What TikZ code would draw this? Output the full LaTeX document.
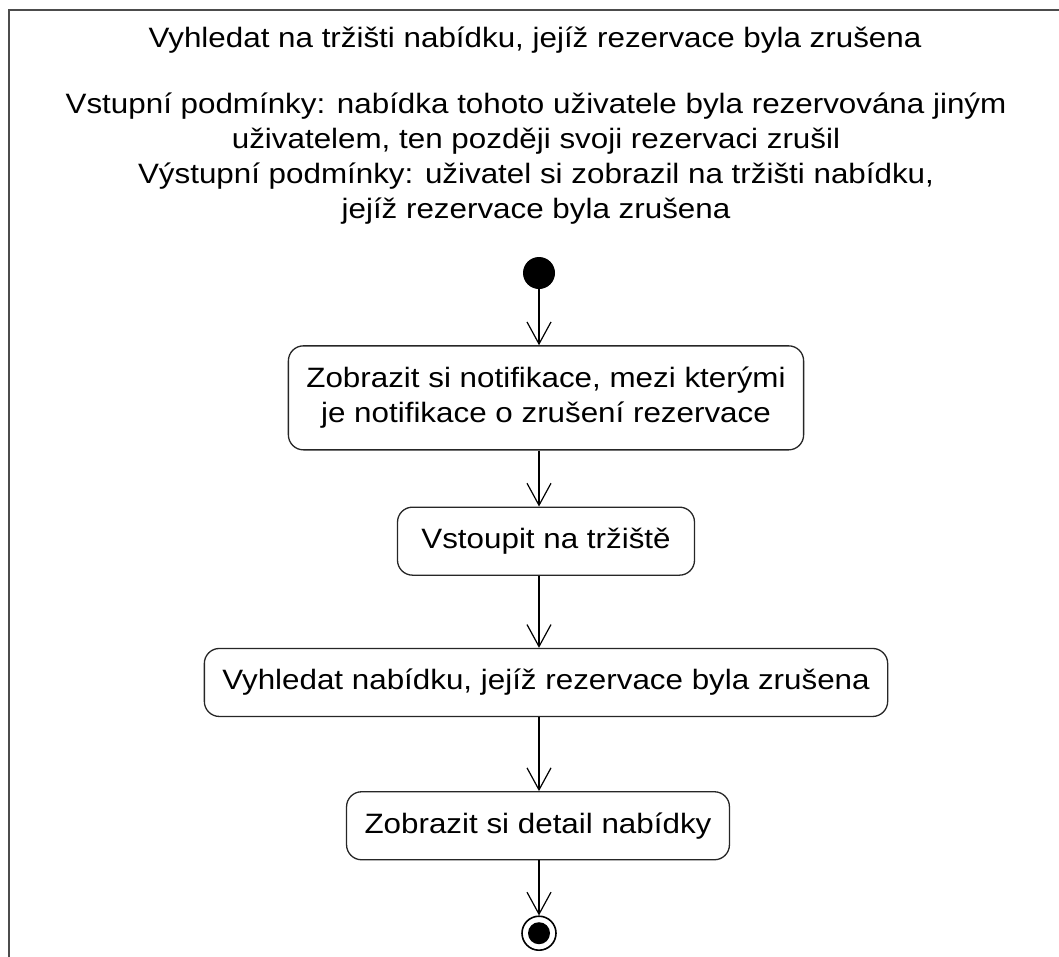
\documentclass[tikz,border=0pt]{standalone}
\usepackage{fontspec}
\setmainfont{Liberation Sans}[FakeStretch=1.12]
\usetikzlibrary{arrows.meta, positioning}

\begin{document}
\begin{tikzpicture}[
        x=1pt, y=-1pt,
        node distance=56pt,
        frame/.style={draw=black!70, line width=2.5pt},
        header/.style={align=center, font=\fontsize{28}{35}\selectfont, text=black},
        action/.style={draw=black!85, rectangle, rounded corners=15pt, line width=1.3pt, minimum height=68pt, inner xsep=18pt, align=center, font=\fontsize{28}{35}\selectfont, text=black},
        initial/.style={circle, fill=black, minimum size=32pt, inner sep=0pt},
        final/.style={circle, draw=black, line width=1.6pt, minimum size=34pt, inner sep=0pt,
            path picture={\fill[black] (path picture bounding box.center) circle (11pt);}},
        arrow/.style={-{Straight Barb[length=22pt, width=24pt]}, line width=1.2pt}
    ]
        \clip (0,0) rectangle (1059,956);
        % Ramec diagramu (pravy a spodni okraj jsou mimo obrazek)
        \draw[frame] (9,1000) -- (9,10) -- (1100,10);

        % Nazev a podminky (anchor base lezi na poslednim radku)
        \node[header, anchor=base] (title) at (535,47) {Vyhledat na tržišti nabídku, jejíž rezervace byla zrušena};
        \node[header, anchor=base] (cond) at (536,218) {Vstupní podmínky: nabídka tohoto uživatele byla rezervována jiným\\
            uživatelem, ten později svoji rezervaci zrušil\\
            Výstupní podmínky: uživatel si zobrazil na tržišti nabídku,\\
            jejíž rezervace byla zrušena};

        % 1. Pocatecni uzel
        \node[initial] (start) at (539,273) {};

        % 2. Aktivity
        \node[action, below=56pt of start, xshift=7pt, minimum height=104pt] (notif) {Zobrazit si notifikace, mezi kterými\\ je notifikace o zrušení rezervace};
        \node[action, below=56pt of notif, minimum width=297pt] (trziste) {Vstoupit na tržiště};
        \node[action, below=72pt of trziste] (hledat) {Vyhledat nabídku, jejíž rezervace byla zrušena};
        \node[action, below=74pt of hledat, xshift=-8pt] (detail) {Zobrazit si detail nabídky};

        % 3. Koncovy uzel
        \node[final, below=55pt of detail.south -| start] (end) {};

        % Prechody mezi aktivitami
        \draw[arrow] (start) -- (start |- notif.north);
        \draw[arrow] (notif.south -| start) -- (start |- trziste.north);
        \draw[arrow] (trziste.south -| start) -- (start |- hledat.north);
        \draw[arrow] (hledat.south -| start) -- (start |- detail.north);
        \draw[arrow] (detail.south -| start) -- (end);
\end{tikzpicture}
\end{document}
